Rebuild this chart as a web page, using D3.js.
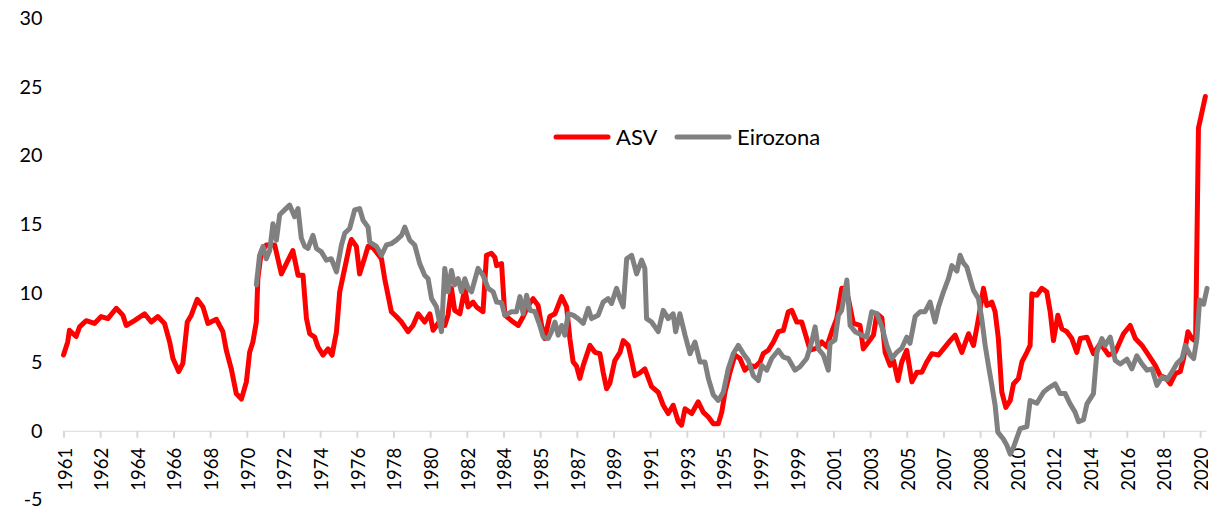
<!DOCTYPE html>
<html>
<head>
<meta charset="utf-8">
<script src="https://cdn.jsdelivr.net/npm/d3@7"></script>
<style>
  html, body { margin: 0; padding: 0; background: #fff; }
  svg { display: block; font-family: Lato, "Open Sans", sans-serif; }
</style>
</head>
<body>
<svg id="chart" width="1230" height="508"></svg>
<script>
// ---- Data (decimal year, value %) ----
const seriesNames = ["ASV", "Eirozona"];

const asvDates = [1961.00,1961.22,1961.31,1961.66,1961.84,1962.19,1962.62,1962.97,1963.32,1963.76,1964.10,1964.28,1964.71,1965.24,1965.59,1965.93,1966.28,1966.55,1966.72,1967.02,1967.24,1967.47,1967.68,1967.99,1968.29,1968.55,1968.99,1969.33,1969.51,1969.77,1970.03,1970.30,1970.56,1970.73,1970.90,1971.08,1971.16,1971.34,1971.60,1972.04,1972.39,1972.65,1972.99,1973.26,1973.52,1973.70,1973.87,1974.13,1974.30,1974.56,1974.83,1975.04,1975.27,1975.44,1975.70,1975.96,1976.05,1976.31,1976.48,1976.75,1976.92,1977.18,1977.62,1977.79,1978.14,1978.40,1978.67,1979.01,1979.27,1979.54,1979.88,1980.15,1980.32,1980.50,1980.76,1980.93,1981.10,1981.28,1981.45,1981.72,1981.98,1982.15,1982.41,1982.59,1982.93,1983.11,1983.37,1983.55,1983.64,1983.90,1984.07,1984.42,1984.77,1985.03,1985.29,1985.55,1985.81,1985.99,1986.16,1986.42,1986.69,1987.04,1987.30,1987.47,1987.64,1987.82,1987.99,1988.17,1988.52,1988.78,1989.04,1989.21,1989.39,1989.56,1989.82,1990.09,1990.26,1990.52,1990.70,1990.87,1991.13,1991.39,1991.74,1992.09,1992.35,1992.61,1992.87,1993.14,1993.31,1993.49,1993.84,1994.18,1994.44,1994.71,1994.97,1995.23,1995.41,1995.58,1995.84,1996.10,1996.36,1996.62,1996.89,1997.15,1997.41,1997.58,1997.84,1998.11,1998.37,1998.63,1998.89,1999.07,1999.33,1999.59,1999.85,2000.03,2000.38,2000.64,2000.90,2001.16,2001.42,2001.68,2001.86,2002.03,2002.29,2002.64,2002.81,2003.08,2003.34,2003.52,2003.78,2003.95,2004.21,2004.39,2004.62,2004.82,2005.08,2005.35,2005.61,2005.87,2006.13,2006.39,2006.74,2007.00,2007.35,2007.61,2007.96,2008.31,2008.57,2008.83,2009.09,2009.27,2009.53,2009.70,2009.87,2010.05,2010.26,2010.49,2010.66,2010.92,2011.10,2011.36,2011.53,2011.62,2011.88,2012.14,2012.40,2012.58,2012.75,2012.98,2013.19,2013.45,2013.71,2013.97,2014.15,2014.50,2014.84,2015.20,2015.63,2015.98,2016.41,2016.76,2017.03,2017.38,2017.72,2018.07,2018.33,2018.60,2018.86,2019.12,2019.38,2019.55,2019.78,2019.99,2020.18,2020.33,2020.52,2020.69];
const asvValues = [5.5,6.45,7.3,6.85,7.55,8.0,7.8,8.3,8.15,8.9,8.4,7.65,8.0,8.5,7.9,8.3,7.8,6.45,5.25,4.3,4.9,7.9,8.4,9.55,9.0,7.8,8.1,7.2,5.85,4.5,2.7,2.3,3.55,5.7,6.45,7.9,11.05,13.0,13.5,13.5,11.4,12.15,13.1,11.3,11.3,8.15,7.05,6.8,6.1,5.5,5.95,5.5,7.2,10.1,11.8,13.5,13.9,13.4,11.4,12.6,13.4,13.3,12.5,11.05,8.65,8.3,7.9,7.2,7.65,8.5,7.9,8.5,7.3,7.65,8.15,7.65,8.4,10.35,8.75,8.5,10.35,9.0,9.35,9.0,8.65,12.75,12.9,12.6,12.0,12.15,8.4,8.0,7.65,8.3,9.1,9.6,9.1,7.65,6.7,8.3,8.5,9.75,9.0,6.7,5.0,4.7,3.8,4.75,6.2,5.7,5.6,4.25,3.05,3.45,5.1,5.7,6.55,6.2,5.1,4.0,4.2,4.5,3.2,2.8,1.85,1.25,1.85,0.65,0.4,1.6,1.25,2.1,1.35,1.0,0.5,0.5,1.35,2.8,4.25,5.5,5.25,4.4,4.75,4.65,5.0,5.6,5.85,6.45,7.2,7.3,8.65,8.75,7.9,7.9,6.7,5.85,6.0,6.45,6.1,7.2,8.15,10.35,10.35,9.6,7.8,7.65,5.95,6.45,6.95,8.5,8.2,5.7,4.75,5.1,3.65,5.0,5.85,3.55,4.25,4.25,5.0,5.6,5.5,5.95,6.55,6.95,5.7,7.05,6.2,8.15,10.35,9.1,9.35,8.65,6.7,2.8,1.7,2.2,3.4,3.8,5.0,5.7,6.2,9.95,9.85,10.35,10.1,8.65,6.55,8.4,7.4,7.2,6.7,5.7,6.7,6.8,5.6,6.35,5.5,5.7,7.05,7.65,6.7,6.2,5.5,4.75,4.0,3.85,3.4,4.15,4.3,5.25,7.2,6.7,6.5,22.0,23.2,24.3];

const ezDates = [1971.08,1971.25,1971.43,1971.60,1971.78,1971.95,1972.13,1972.30,1972.56,1972.82,1973.08,1973.26,1973.43,1973.61,1973.78,1974.04,1974.22,1974.48,1974.74,1975.00,1975.27,1975.53,1975.70,1975.96,1976.22,1976.48,1976.66,1976.92,1977.01,1977.36,1977.62,1977.88,1978.14,1978.40,1978.67,1978.84,1979.10,1979.36,1979.62,1979.88,1980.06,1980.24,1980.50,1980.76,1980.93,1981.10,1981.28,1981.45,1981.63,1981.80,1981.98,1982.15,1982.33,1982.67,1982.93,1983.20,1983.46,1983.64,1983.90,1984.07,1984.42,1984.68,1984.86,1985.03,1985.21,1985.38,1985.64,1985.90,1986.08,1986.34,1986.51,1986.69,1986.86,1987.04,1987.21,1987.38,1987.64,1987.90,1988.17,1988.43,1988.60,1988.95,1989.21,1989.47,1989.65,1989.91,1990.09,1990.26,1990.44,1990.70,1990.96,1991.22,1991.39,1991.48,1991.74,1992.09,1992.35,1992.61,1992.87,1993.00,1993.22,1993.49,1993.75,1994.01,1994.27,1994.53,1994.71,1994.97,1995.23,1995.49,1995.75,1996.01,1996.27,1996.54,1996.80,1997.06,1997.32,1997.50,1997.76,1998.02,1998.37,1998.63,1998.89,1999.24,1999.50,1999.85,2000.11,2000.29,2000.46,2000.72,2000.98,2001.07,2001.33,2001.51,2001.68,2001.95,2002.12,2002.38,2002.73,2002.99,2003.25,2003.52,2003.78,2004.04,2004.30,2004.56,2004.82,2005.08,2005.25,2005.52,2005.78,2006.04,2006.30,2006.56,2006.74,2007.00,2007.26,2007.44,2007.70,2007.87,2008.04,2008.22,2008.39,2008.57,2008.83,2009.00,2009.18,2009.35,2009.53,2009.70,2009.84,2010.13,2010.31,2010.49,2010.66,2011.01,2011.36,2011.53,2011.88,2012.23,2012.49,2012.84,2013.10,2013.36,2013.62,2013.88,2014.06,2014.32,2014.50,2014.84,2015.02,2015.28,2015.45,2015.72,2015.98,2016.24,2016.59,2016.85,2017.11,2017.38,2017.64,2017.90,2018.16,2018.42,2018.68,2018.94,2019.21,2019.47,2019.64,2019.90,2020.08,2020.25,2020.39,2020.60,2020.78];
const ezValues = [10.6,12.75,13.4,12.5,13.1,15.05,13.85,15.7,16.05,16.4,15.55,16.15,14.0,13.4,13.25,14.2,13.25,13.0,12.4,12.5,11.55,13.5,14.35,14.7,16.05,16.15,15.3,14.8,13.7,13.4,12.75,13.5,13.6,13.85,14.2,14.8,13.85,13.5,12.15,11.3,11.05,9.6,9.0,7.2,11.8,10.1,11.65,10.6,11.05,10.1,11.05,10.35,10.1,11.8,11.3,10.35,10.1,9.35,9.3,8.4,8.65,8.65,9.75,8.5,9.85,8.75,8.65,7.65,6.8,6.7,7.2,7.9,6.95,7.65,6.95,8.5,8.4,8.15,7.8,8.9,8.15,8.4,9.35,9.6,9.25,10.35,9.6,9.0,12.5,12.75,11.4,12.4,11.8,8.15,7.9,7.2,8.75,8.15,8.5,7.2,8.5,6.95,5.6,6.45,5.0,5.0,3.8,2.6,2.2,2.8,4.5,5.6,6.2,5.6,5.1,4.0,3.65,4.75,4.4,5.25,5.85,5.35,5.25,4.4,4.65,5.25,6.45,7.55,5.95,5.5,4.4,6.35,6.6,8.4,8.75,10.95,7.65,7.2,6.95,6.8,8.65,8.5,7.55,6.2,5.25,5.7,6.0,6.8,6.35,8.3,8.65,8.65,9.35,7.9,9.0,10.1,11.05,12.0,11.6,12.75,12.2,11.9,11.05,10.2,9.6,8.15,6.2,4.75,3.3,1.85,-0.1,-0.6,-1.05,-1.7,-1.2,0.15,0.3,2.2,2.0,2.8,3.1,3.4,2.7,2.7,1.95,1.35,0.65,0.8,1.95,2.7,5.7,6.7,6.2,6.8,5.1,4.85,5.2,4.5,5.45,4.85,4.4,4.5,3.3,3.9,3.7,4.25,4.9,5.25,6.2,5.5,5.25,6.7,9.5,9.2,10.35];

const yTicks = [-5, 0, 5, 10, 15, 20, 25, 30];
const xTickLabels = ["1961","1962","1964","1966","1968","1970","1972","1974","1976","1978","1980","1982","1984","1985","1987","1989","1991","1993","1995","1997","1999","2001","2003","2005","2007","2008","2010","2012","2014","2016","2018","2020"];
const tickStepMonths = 23;      // Excel category axis: one label every 23 months
const lastMonthIndex = 717;     // Oct 2020

const colors = ["#ff0000", "#808080"];

// ---- Layout ----
const svg = d3.select("#chart");
const x = d3.scaleLinear().domain([0, lastMonthIndex]).range([63.5, 1206.5]);
const y = d3.scaleLinear().domain([-5, 30]).range([499.5, 18]);
const monthIdx = d => (d - 1961) * 12;

svg.append("defs").append("clipPath").attr("id", "clipR")
  .append("rect").attr("x", 0).attr("y", 0).attr("width", 1208).attr("height", 508);

// Y-axis labels (no axis line)
const yAxis = d3.axisLeft(y).tickValues(yTicks).tickSize(0).tickPadding(0).tickFormat(d => String(d));
const gy = svg.append("g").attr("transform", "translate(42.5,0)").call(yAxis);
gy.select(".domain").remove();
gy.attr("font-family", "Lato, sans-serif").attr("font-size", 21);
gy.selectAll("text").attr("fill", "#000");
// fit: "30" is ~23px wide in the reference
{
  const t = gy.selectAll("text").filter(d => d === 30).node();
  const w = t.getComputedTextLength();
  if (w > 0) gy.attr("font-size", (21 * 23 / w).toFixed(2));
}

// X-axis at zero
const tickVals = xTickLabels.map((_, i) => i * tickStepMonths);
const xAxis = d3.axisBottom(x).tickValues(tickVals).tickSize(7).tickSizeOuter(0)
  .tickFormat((d, i) => xTickLabels[i]);
const gx = svg.append("g").attr("transform", `translate(0,${y(0)})`)
  .attr("clip-path", "url(#clipR)").call(xAxis);
gx.attr("font-family", "Lato, sans-serif").attr("font-size", 18);
gx.select(".domain").attr("stroke", "#d9d9d9").attr("stroke-width", 2)
  .attr("d", `M${x(0)},0H${x(lastMonthIndex)}`);
gx.selectAll(".tick line").attr("stroke", "#d9d9d9").attr("stroke-width", 2);
gx.selectAll(".tick text")
  .attr("fill", "#000")
  .attr("transform", "rotate(-90)")
  .attr("text-anchor", "end")
  .attr("x", -17).attr("y", 1).attr("dy", "0.35em");
// fit: year labels are ~43px long in the reference
{
  const t = gx.select(".tick text").node();
  const w = t.getComputedTextLength();
  if (w > 0) gx.attr("font-size", (18 * 43 / w).toFixed(2));
}

// Lines
const line = d3.line().x(d => x(monthIdx(d[0]))).y(d => y(d[1])).curve(d3.curveLinear);
const asv = asvDates.map((d, i) => [d, asvValues[i]]);
const ez = ezDates.map((d, i) => [d, ezValues[i]]);

svg.append("path").datum(asv).attr("d", line)
  .attr("fill", "none").attr("stroke", colors[0]).attr("stroke-width", 5)
  .attr("stroke-linejoin", "round").attr("stroke-linecap", "round");
svg.append("path").datum(ez).attr("d", line)
  .attr("fill", "none").attr("stroke", colors[1]).attr("stroke-width", 5)
  .attr("stroke-linejoin", "round").attr("stroke-linecap", "round");

// Legend
const legend = svg.append("g").attr("font-family", "Lato, sans-serif").attr("font-size", 22);
const legendItems = [{x: 556, name: seriesNames[0], c: colors[0]}, {x: 677, name: seriesNames[1], c: colors[1]}];
legendItems.forEach(it => {
  legend.append("line").attr("x1", it.x).attr("x2", it.x + 52).attr("y1", 137).attr("y2", 137)
    .attr("stroke", it.c).attr("stroke-width", 5).attr("stroke-linecap", "round");
  legend.append("text").attr("x", it.x + 60).attr("y", 137).attr("dy", "0.35em")
    .attr("fill", "#000").text(it.name);
});
</script>
</body>
</html>
